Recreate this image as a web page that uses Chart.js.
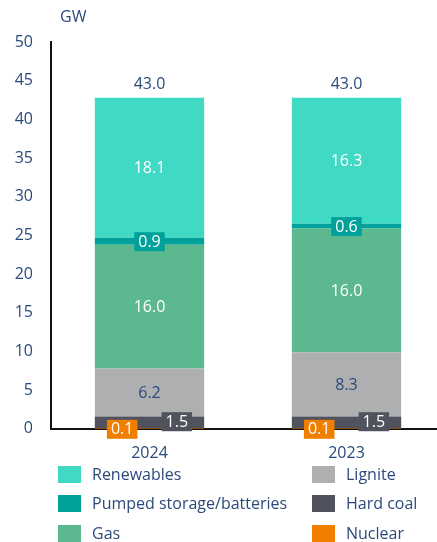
<!DOCTYPE html>
<html>
<head>
<meta charset="utf-8">
<script src="https://cdn.jsdelivr.net/npm/chart.js@4/dist/chart.umd.min.js"></script>
<style>
  body { margin: 0; background: #fff; font-family: "Open Sans", sans-serif; overflow: hidden; }
  #wrap { position: relative; width: 437px; height: 542px; overflow: hidden; }
  #chartBox { position: absolute; left: 0; top: 0; width: 445px; height: 470px; }
  .leg { position: absolute; display: flex; align-items: center; font-size: 16px; color: #2b4a7b; }
  .leg span.sw { display: inline-block; width: 23px; height: 17px; margin-right: 11px; }
</style>
</head>
<body>
<div id="wrap">
  <div id="chartBox"><canvas id="chart"></canvas></div>
  <div id="legend"></div>
</div>
<script>
const categories = ['2024', '2023'];
const nuclear = [0.1, 0.1];
const hardCoal = [1.5, 1.5];
const lignite = [6.2, 8.3];
const gas = [16.0, 16.0];
const pumped = [0.9, 0.6];
const renewables = [18.1, 16.3];
const totals = [43.0, 43.0];
const yTicks = [0, 5, 10, 15, 20, 25, 30, 35, 40, 45, 50];

const textColor = '#2b4a7b';
const colors = {
    renewables: '#40d9c4',
    pumped: '#00a19a',
    gas: '#5cb98f',
    lignite: '#aeafb1',
    hardCoal: '#50535d',
    nuclear: '#f07f00'
};

// how each series gets its value label
const labelStyle = [
    { box: colors.nuclear, color: '#fff', dx: -0.25, atBase: true },
    { box: colors.hardCoal, color: '#fff', dx: 0.25, dy: -1 },
    { color: textColor },
    { color: '#fff' },
    { box: colors.pumped, color: '#fff' },
    { color: '#fff' }
];

const valueLabels = {
    id: 'valueLabels',
    afterDatasetsDraw(chart) {
        const ctx = chart.ctx;
        ctx.save();
        ctx.font = '16px "Open Sans", sans-serif';
        ctx.textAlign = 'center';
        ctx.textBaseline = 'middle';
        chart.data.datasets.forEach((ds, i) => {
            const meta = chart.getDatasetMeta(i);
            const st = labelStyle[i];
            meta.data.forEach((bar, j) => {
                const txt = ds.data[j].toFixed(1);
                const x = bar.x + (st.dx || 0) * bar.width;
                let y = st.atBase ? bar.base : (bar.y + bar.base) / 2;
                y += st.dy || 0;
                if (st.box) {
                    const w = ctx.measureText(txt).width + 8;
                    ctx.fillStyle = st.box;
                    ctx.fillRect(x - w / 2, y - 9, w, 19);
                }
                ctx.fillStyle = st.color;
                ctx.fillText(txt, x, y + 1);
            });
        });
        // totals above bars
        const top = chart.getDatasetMeta(chart.data.datasets.length - 1);
        ctx.fillStyle = textColor;
        top.data.forEach((bar, j) => {
            ctx.fillText(totals[j].toFixed(1), bar.x, bar.y - 13);
        });
        // unit
        ctx.textAlign = 'left';
        ctx.fillText('GW', 60, 17);
        ctx.restore();
    }
};

const series = [
    ['Nuclear', nuclear, colors.nuclear],
    ['Hard coal', hardCoal, colors.hardCoal],
    ['Lignite', lignite, colors.lignite],
    ['Gas', gas, colors.gas],
    ['Pumped storage/batteries', pumped, colors.pumped],
    ['Renewables', renewables, colors.renewables]
];

new Chart(document.getElementById('chart'), {
    type: 'bar',
    data: {
        labels: categories,
        datasets: series.map(s => ({
            label: s[0],
            data: s[1],
            backgroundColor: s[2],
            borderWidth: 0,
            categoryPercentage: 1,
            barPercentage: 0.555
        }))
    },
    options: {
        responsive: true,
        maintainAspectRatio: false,
        animation: false,
        layout: { padding: { top: 42, right: 0, bottom: 0, left: 0 } },
        plugins: { legend: { display: false }, tooltip: { enabled: false } },
        scales: {
            x: {
                stacked: true,
                grid: { display: false },
                border: { display: true, color: '#111', width: 2 },
                ticks: { color: textColor, font: { size: 16, family: '"Open Sans", sans-serif' }, padding: 7 }
            },
            y: {
                stacked: true,
                min: 0,
                max: 50,
                afterBuildTicks(scale) { scale.ticks = yTicks.map(v => ({ value: v })); },
                afterFit(scale) { scale.width = 51; },
                grid: { display: false },
                border: { display: true, color: '#111', width: 2 },
                ticks: { color: textColor, font: { size: 16, family: '"Open Sans", sans-serif' }, padding: 10 }
            }
        }
    },
    plugins: [valueLabels]
});

// legend, two columns
const legendItems = [
    ['Renewables', colors.renewables, 58, 474],
    ['Pumped storage/batteries', colors.pumped, 58, 503],
    ['Gas', colors.gas, 58, 533],
    ['Lignite', colors.lignite, 312, 474],
    ['Hard coal', colors.hardCoal, 312, 503],
    ['Nuclear', colors.nuclear, 312, 533]
];
const legendEl = document.getElementById('legend');
legendItems.forEach(it => {
    const d = document.createElement('div');
    d.className = 'leg';
    d.style.left = it[2] + 'px';
    d.style.top = (it[3] - 10) + 'px';
    d.style.height = '20px';
    d.innerHTML = `<span class="sw" style="background:${it[1]}"></span>${it[0]}`;
    legendEl.appendChild(d);
});
</script>
</body>
</html>
